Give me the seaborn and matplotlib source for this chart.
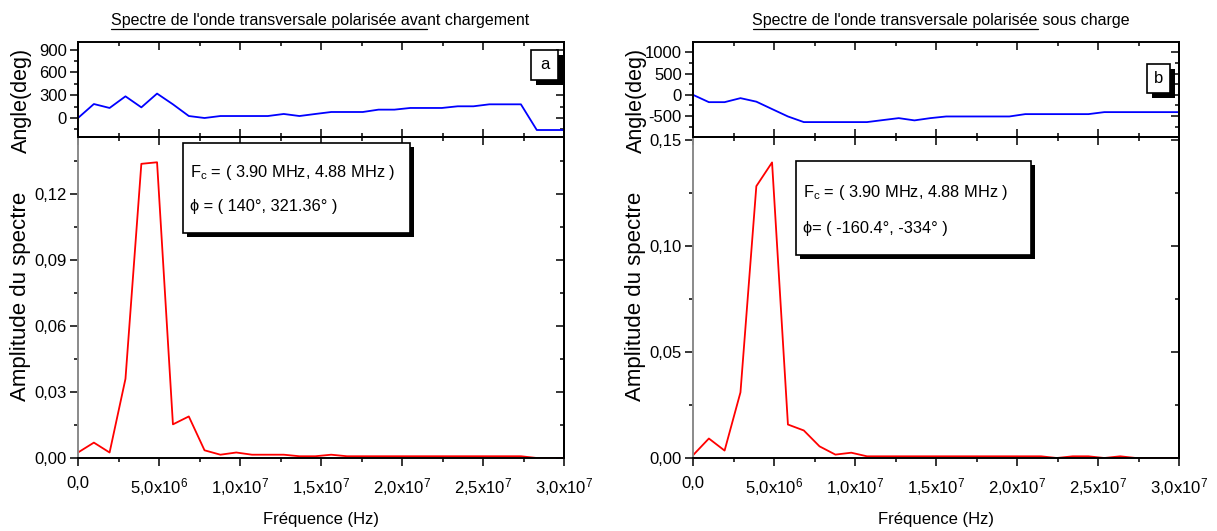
import matplotlib
matplotlib.use("Agg")
import numpy as np
import pandas as pd
import matplotlib.pyplot as plt
from matplotlib.patches import Rectangle
from matplotlib.lines import Line2D
from matplotlib.ticker import MultipleLocator, FixedLocator, FixedFormatter
import seaborn as sns

# ---- data -----------------------------------------------------------------
# FFT bin frequencies (MHz)
freq_mhz = [0.00, 0.98, 1.95, 2.93, 3.91, 4.88, 5.86, 6.84, 7.81, 8.79,
            9.77, 10.74, 11.72, 12.70, 13.67, 14.65, 15.63, 16.60, 17.58, 18.55,
            19.53, 20.51, 21.48, 22.46, 23.44, 24.41, 25.39, 26.37, 27.34, 28.32,
            29.30, 30.27]

# (a) before loading
amp_before = [0.0025, 0.0070, 0.0025, 0.0360, 0.1338, 0.1345, 0.0153, 0.0189,
              0.0035, 0.0015, 0.0025, 0.0015, 0.0015, 0.0015, 0.0008, 0.0008,
              0.0015, 0.0008, 0.0008, 0.0008, 0.0008, 0.0008, 0.0008, 0.0008,
              0.0008, 0.0008, 0.0008, 0.0008, 0.0008, 0.0000, 0.0000, 0.0000]
phase_before = [0, 184, 132, 285, 140, 321.36, 180, 26, 0, 26, 26, 26, 26, 53,
                26, 53, 79, 79, 79, 110, 110, 132, 132, 132, 154, 154, 180, 180,
                180, -158, -158, -158]

# (b) under load
amp_after = [0.0013, 0.0092, 0.0035, 0.0310, 0.1283, 0.1395, 0.0158, 0.0130,
             0.0055, 0.0016, 0.0025, 0.0008, 0.0008, 0.0008, 0.0008, 0.0008,
             0.0008, 0.0008, 0.0008, 0.0008, 0.0008, 0.0008, 0.0008, 0.0000,
             0.0008, 0.0008, 0.0000, 0.0008, 0.0000, 0.0000, 0.0000, 0.0000]
phase_after = [0, -172, -172, -78, -160.4, -334, -508, -640, -640, -640, -640,
               -640, -593, -547, -600, -547, -508, -508, -508, -508, -508, -453,
               -453, -453, -453, -453, -406, -406, -406, -406, -406, -406]

# tick labels
x_ticks = [0, 5e6, 1e7, 1.5e7, 2e7, 2.5e7, 3e7]
x_tick_labels = ["0,0", "5,0x10$^{6}$", "1,0x10$^{7}$", "1,5x10$^{7}$",
                 "2,0x10$^{7}$", "2,5x10$^{7}$", "3,0x10$^{7}$"]
amp_ticks_a = [0.00, 0.03, 0.06, 0.09, 0.12]
amp_labels_a = ["0,00", "0,03", "0,06", "0,09", "0,12"]
amp_ticks_b = [0.00, 0.05, 0.10, 0.15]
amp_labels_b = ["0,00", "0,05", "0,10", "0,15"]
ang_ticks_a = [0, 300, 600, 900]
ang_ticks_b = [-500, 0, 500, 1000]

titles_a = ("Spectre de l'onde transversale polarisée ava", "nt chargement")
titles_b = ("Spectre de l'onde transversale polarisée", " sous charge")
info_a = ["F$_{c}$ = ( 3.90 MHz, 4.88 MHz )", "\u03d5 = ( 140°, 321.36° )"]
info_b = ["F$_{c}$ = ( 3.90 MHz, 4.88 MHz )", "\u03d5= ( -160.4°, -334° )"]

df_a = pd.DataFrame({"f": np.array(freq_mhz) * 1e6, "amp": amp_before,
                     "phase": phase_before})
df_b = pd.DataFrame({"f": np.array(freq_mhz) * 1e6, "amp": amp_after,
                     "phase": phase_after})

# ---- style ----------------------------------------------------------------
sns.set_style("ticks")
NARROW = ["Liberation Sans Narrow", "Liberation Sans", "DejaVu Sans"]
SANS = ["Liberation Sans", "DejaVu Sans"]
plt.rcParams["font.family"] = NARROW
plt.rcParams["mathtext.default"] = "regular"
plt.rcParams["axes.unicode_minus"] = False
plt.rcParams["axes.linewidth"] = 1.4
plt.rcParams["axes.edgecolor"] = "black"
for key in ("text.color", "axes.labelcolor", "xtick.color", "ytick.color",
            "xtick.labelcolor", "ytick.labelcolor"):
    plt.rcParams[key] = "black"

W, H = 1217, 531
fig = plt.figure(figsize=(W / 100, H / 100), dpi=100)
fig.patch.set_facecolor("white")


def fx(px):
    return px / W


def fy(py):
    return 1 - py / H


def rect_axes(x0, y0, x1, y1):
    return fig.add_axes([fx(x0), fy(y1), (x1 - x0) / W, (y1 - y0) / H])


def mirror_ticks(ax, major_y, minor_y, major_x=None, minor_x=None):
    sec_y = ax.secondary_yaxis("right")
    sec_y.yaxis.set_major_locator(major_y)
    sec_y.yaxis.set_minor_locator(minor_y)
    sec_y.tick_params(which="both", direction="in", labelright=False,
                      width=1.1)
    sec_y.tick_params(which="major", length=6)
    sec_y.tick_params(which="minor", length=3)
    sec_y.spines["right"].set_linewidth(1.4)
    if major_x is not None:
        sec_x = ax.secondary_xaxis("top")
        sec_x.xaxis.set_major_locator(major_x)
        sec_x.xaxis.set_minor_locator(minor_x)
        sec_x.tick_params(which="both", direction="in", labeltop=False,
                          width=1.1)
        sec_x.tick_params(which="major", length=6)
        sec_x.tick_params(which="minor", length=3)
        sec_x.spines["top"].set_linewidth(1.4)


def shadow_box(x0, y0, x1, y1, off):
    fig.add_artist(Rectangle((fx(x0 + off), fy(y1 + off)), (x1 - x0) / W,
                             (y1 - y0) / H, transform=fig.transFigure,
                             facecolor="black", edgecolor="black", lw=0,
                             zorder=20))
    fig.add_artist(Rectangle((fx(x0), fy(y1)), (x1 - x0) / W, (y1 - y0) / H,
                             transform=fig.transFigure, facecolor="white",
                             edgecolor="black", lw=1.2, zorder=21))


def underlined_title(cx, cy, under, rest, size):
    t1 = fig.text(0, fy(cy), under, fontsize=size, va="center", ha="left",
                  family=NARROW)
    t2 = fig.text(0, fy(cy), rest, fontsize=size, va="center", ha="left",
                  family=NARROW)
    r = fig.canvas.get_renderer()
    w1 = t1.get_window_extent(r).width
    w2 = t2.get_window_extent(r).width
    start = cx - (w1 + w2) / 2
    t1.set_x(fx(start))
    t2.set_x(fx(start + w1))
    fig.add_artist(Line2D([fx(start), fx(start + w1)], [fy(cy + 8.5)] * 2,
                          transform=fig.transFigure, color="black", lw=0.9))


def draw_panel(df, x0, x1, ang_lim, ang_major, ang_minor, amp_lim, amp_major,
               amp_minor, amp_labels, info, info_box, letter, letter_box):
    ax_ang = rect_axes(x0, 42, x1, 137)
    ax_amp = rect_axes(x0, 137, x1, 458)

    sns.lineplot(data=df, x="f", y="phase", ax=ax_ang, color="#0000ff",
                 lw=1.3, estimator=None, sort=False)
    sns.lineplot(data=df, x="f", y="amp", ax=ax_amp, color="#ff0000",
                 lw=1.3, estimator=None, sort=False)

    for ax in (ax_ang, ax_amp):
        ax.set_xlim(0, 3e7)
        ax.xaxis.set_major_locator(FixedLocator(x_ticks))
        ax.xaxis.set_minor_locator(MultipleLocator(2.5e6))
        ax.tick_params(which="both", width=1.1, colors="black")
        ax.tick_params(which="major", length=6)
        ax.tick_params(which="minor", length=3)
        ax.set_xlabel("")
        for s in ax.spines.values():
            s.set_visible(True)
            s.set_linewidth(1.4)

    # phase panel
    ax_ang.set_ylim(*ang_lim)
    ax_ang.yaxis.set_major_locator(FixedLocator(ang_major))
    ax_ang.yaxis.set_minor_locator(MultipleLocator(ang_minor))
    ax_ang.tick_params(axis="x", which="both", direction="in", top=True,
                       bottom=True, labelbottom=False)
    ax_ang.tick_params(axis="y", which="both", direction="out", pad=2,
                       labelsize=12)
    ax_ang.set_ylabel("Angle(deg)", family=SANS, fontsize=15.5, va="center")
    ax_ang.yaxis.set_label_coords(-0.117, 0.39)
    mirror_ticks(ax_ang, FixedLocator(ang_major), MultipleLocator(ang_minor))

    # amplitude panel
    ax_amp.set_ylim(*amp_lim)
    ax_amp.yaxis.set_major_locator(FixedLocator(amp_major))
    ax_amp.yaxis.set_major_formatter(FixedFormatter(amp_labels))
    ax_amp.yaxis.set_minor_locator(MultipleLocator(amp_minor))
    ax_amp.xaxis.set_major_formatter(FixedFormatter(x_tick_labels))
    ax_amp.tick_params(axis="both", which="both", direction="out",
                       labelsize=12)
    ax_amp.tick_params(axis="y", pad=2)
    ax_amp.tick_params(axis="x", pad=7)
    ax_amp.spines["left"].set_color("#8a8a8a")
    ax_amp.set_xlabel("Fréquence (Hz)", fontsize=12, labelpad=10)
    ax_amp.set_ylabel("Amplitude du spectre", family=SANS, fontsize=16,
                      va="center")
    ax_amp.yaxis.set_label_coords(-0.118, 0.505)
    mirror_ticks(ax_amp, FixedLocator(amp_major), MultipleLocator(amp_minor),
                 FixedLocator(x_ticks), MultipleLocator(2.5e6))

    # annotation box with the two peak bins
    bx0, by0, bx1, by1, tx, ty1, ty2 = info_box
    shadow_box(bx0, by0, bx1, by1, 4)
    fig.text(fx(tx), fy(ty1), info[0], fontsize=11.8, va="center", ha="left",
             family=NARROW, zorder=22)
    fig.text(fx(tx), fy(ty2), info[1], fontsize=11.8, va="center", ha="left",
             family=NARROW, zorder=22)

    # panel letter
    lx0, ly0, lx1, ly1 = letter_box
    shadow_box(lx0, ly0, lx1, ly1, 5)
    fig.text(fx((lx0 + lx1) / 2), fy((ly0 + ly1) / 2), letter, fontsize=12,
             ha="center", va="center", family=NARROW, zorder=22)
    return ax_ang, ax_amp


draw_panel(df_a, 78, 564, (-250, 1000), ang_ticks_a, 150, (0, 0.146),
           amp_ticks_a, 0.015, amp_labels_a, info_a,
           (183, 143, 410, 233, 190, 172, 206), "a", (531, 50, 558, 80))
draw_panel(df_b, 693, 1179, (-990, 1240), ang_ticks_b, 250, (0, 0.1515),
           amp_ticks_b, 0.025, amp_labels_b, info_b,
           (796, 161, 1031, 255, 803, 193, 228), "b", (1147, 64, 1170, 93))

underlined_title(320, 20, titles_a[0], titles_a[1], 11.5)
underlined_title(941, 20, titles_b[0], titles_b[1], 11.5)

fig.savefig("out.png", dpi=100, facecolor="white")
